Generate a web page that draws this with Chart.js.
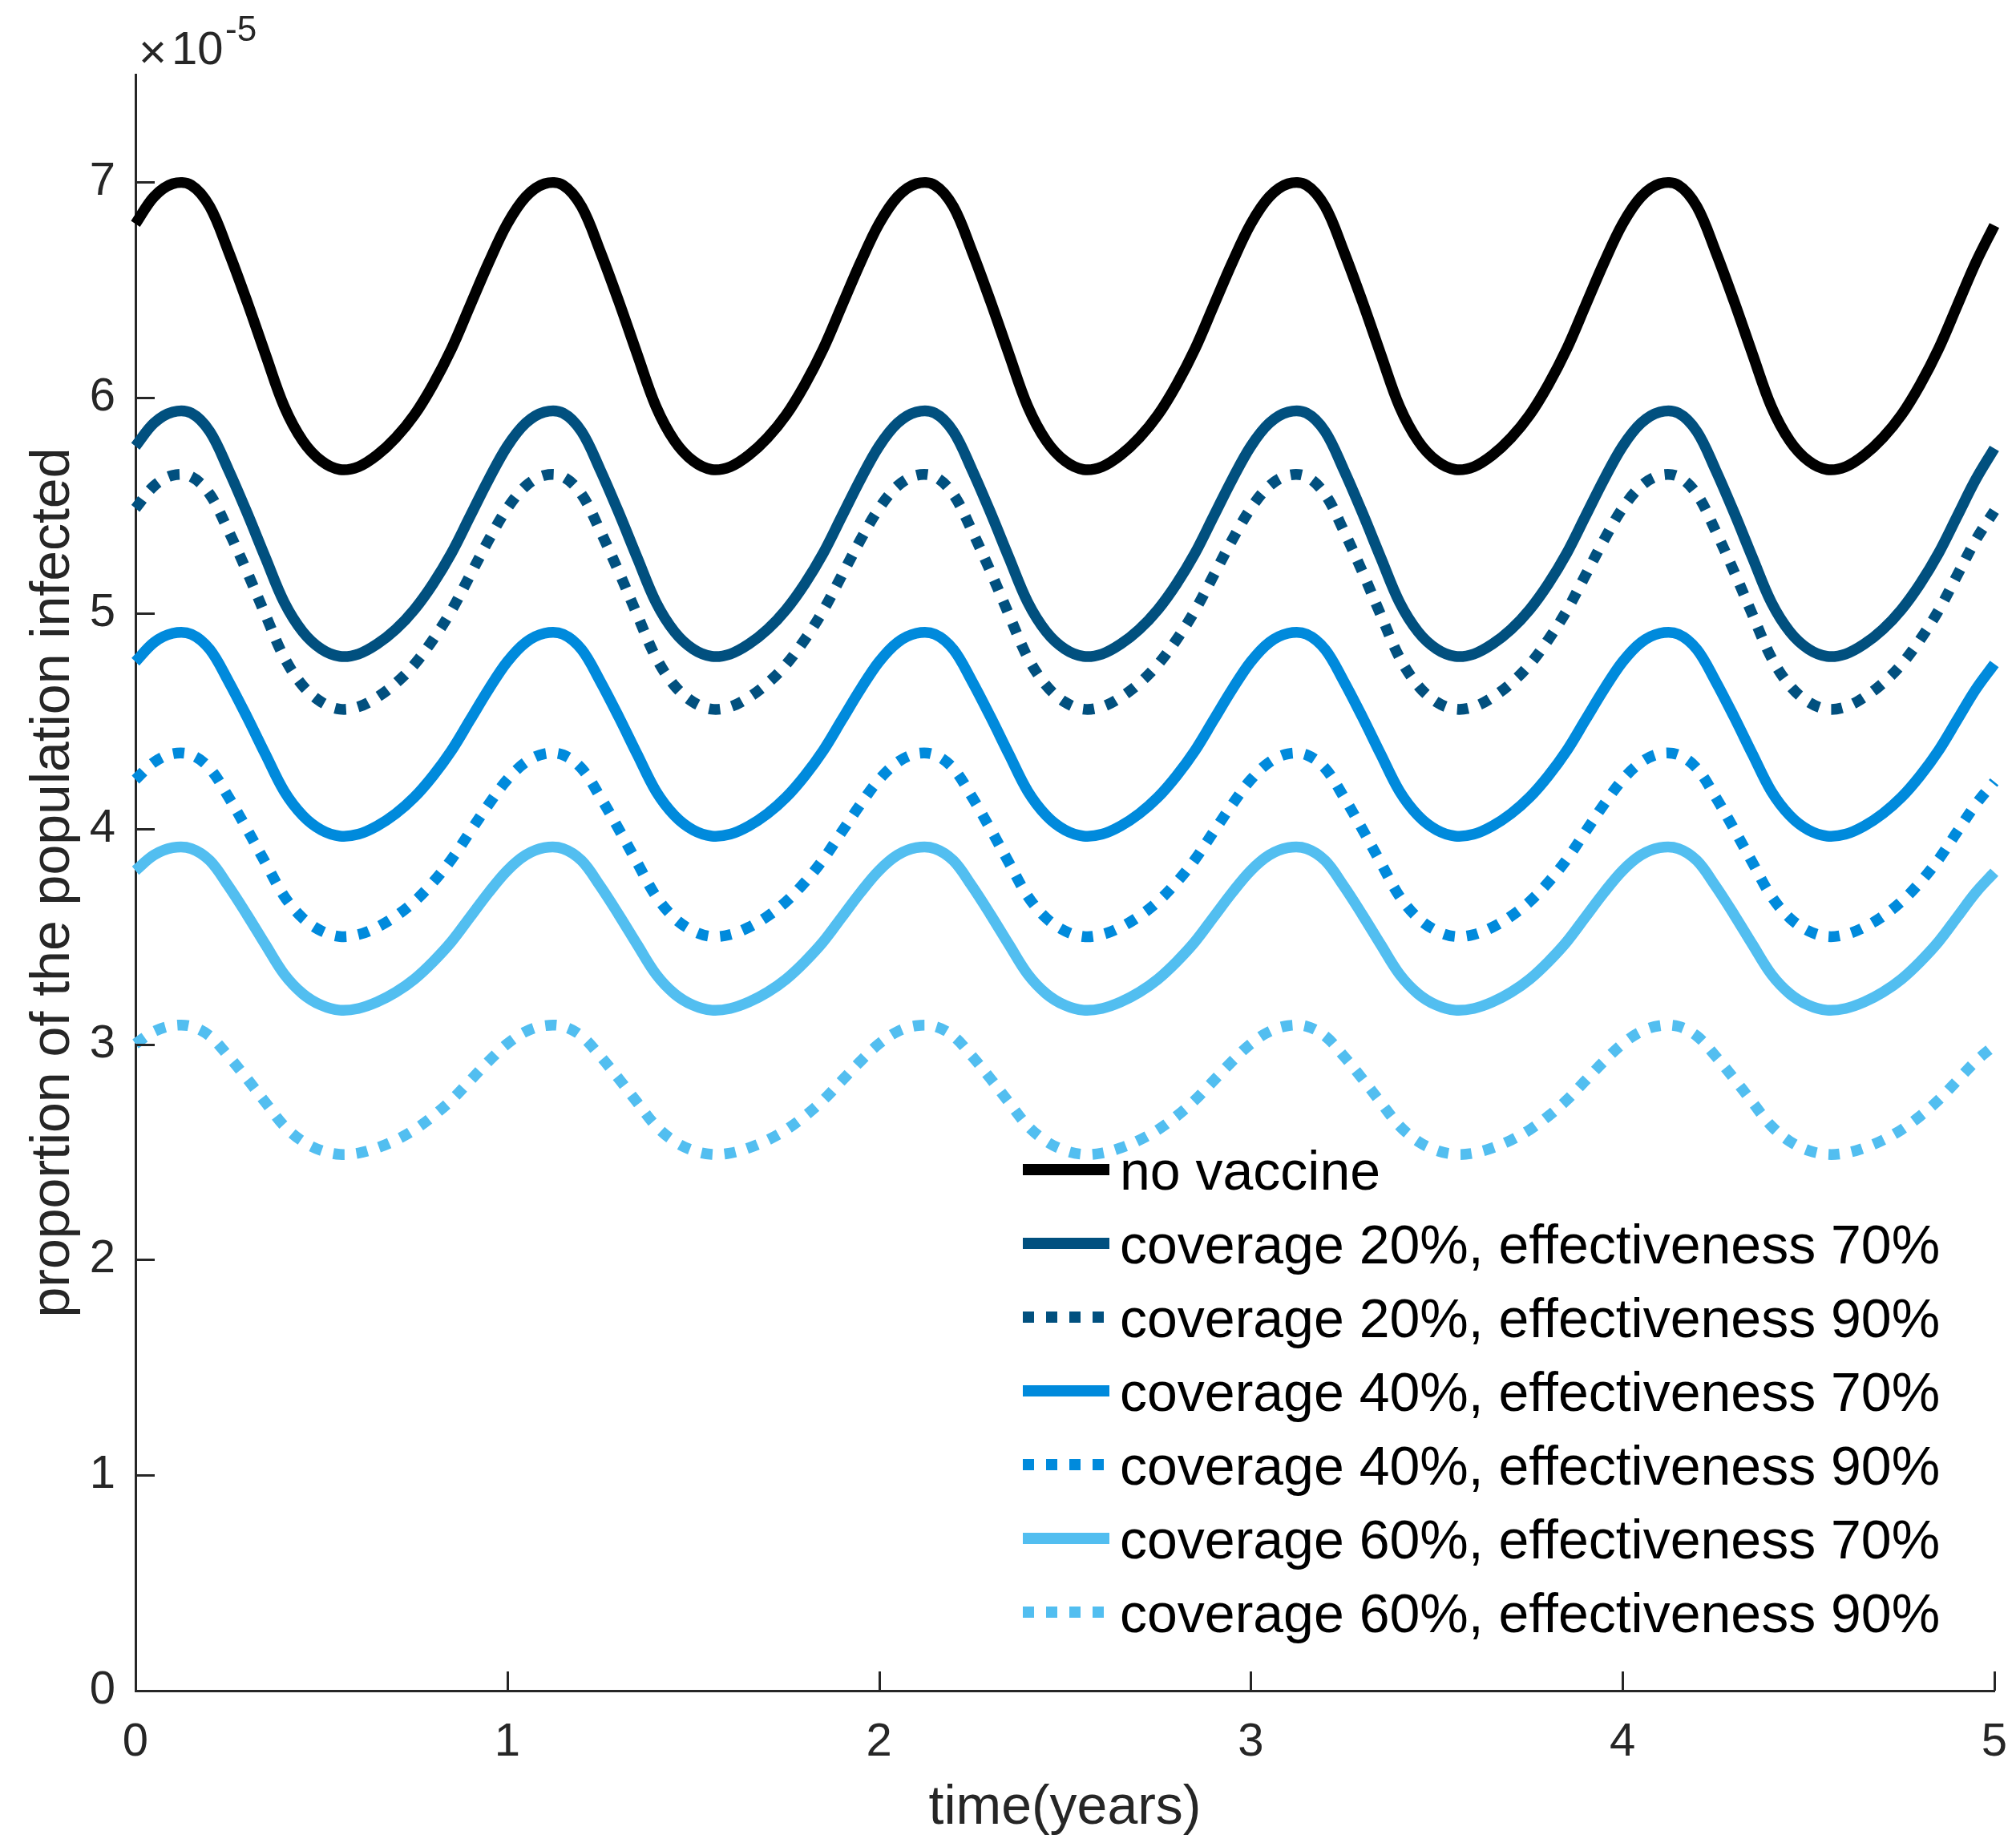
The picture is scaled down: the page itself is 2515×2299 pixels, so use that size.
<!DOCTYPE html>
<html>
<head>
<meta charset="utf-8">
<script src="https://cdn.jsdelivr.net/npm/chart.js@4.4.1/dist/chart.umd.min.js"></script>
<style>
  html, body { margin: 0; padding: 0; background: #ffffff; }
  #c { display: block; }
</style>
</head>
<body>
<canvas id="c" width="2515" height="2299" style="width:2515px;height:2299px"></canvas>
<script>
// ---- data (values in units of 1e-5) ----
const times = [
  0.00,0.05,0.10,0.15,0.20,0.25,0.30,0.35,0.40,0.45,0.50,0.55,0.60,0.65,0.70,0.75,0.80,0.85,0.90,0.95,
  1.00,1.05,1.10,1.15,1.20,1.25,1.30,1.35,1.40,1.45,1.50,1.55,1.60,1.65,1.70,1.75,1.80,1.85,1.90,1.95,
  2.00,2.05,2.10,2.15,2.20,2.25,2.30,2.35,2.40,2.45,2.50,2.55,2.60,2.65,2.70,2.75,2.80,2.85,2.90,2.95,
  3.00,3.05,3.10,3.15,3.20,3.25,3.30,3.35,3.40,3.45,3.50,3.55,3.60,3.65,3.70,3.75,3.80,3.85,3.90,3.95,
  4.00,4.05,4.10,4.15,4.20,4.25,4.30,4.35,4.40,4.45,4.50,4.55,4.60,4.65,4.70,4.75,4.80,4.85,4.90,4.95,
  5.00
];
const noVaccine = [
  6.807,6.933,6.993,6.987,6.887,6.680,6.447,6.200,5.960,5.800,5.707,5.667,5.680,5.734,5.814,5.920,6.060,6.227,6.427,6.627,
  6.807,6.933,6.993,6.987,6.887,6.680,6.447,6.200,5.960,5.800,5.707,5.667,5.680,5.734,5.814,5.920,6.060,6.227,6.427,6.627,
  6.807,6.933,6.993,6.987,6.887,6.680,6.447,6.200,5.960,5.800,5.707,5.667,5.680,5.734,5.814,5.920,6.060,6.227,6.427,6.627,
  6.807,6.933,6.993,6.987,6.887,6.680,6.447,6.200,5.960,5.800,5.707,5.667,5.680,5.734,5.814,5.920,6.060,6.227,6.427,6.627,
  6.807,6.933,6.993,6.987,6.887,6.680,6.447,6.200,5.960,5.800,5.707,5.667,5.680,5.734,5.814,5.920,6.060,6.227,6.427,6.627,
  6.800
];
const cov20eff70 = [
  5.775,5.883,5.934,5.929,5.843,5.666,5.467,5.256,5.051,4.914,4.834,4.800,4.811,4.857,4.925,5.017,5.136,5.279,5.450,5.621,
  5.775,5.883,5.934,5.929,5.843,5.666,5.467,5.256,5.051,4.914,4.834,4.800,4.811,4.857,4.925,5.017,5.136,5.279,5.450,5.621,
  5.775,5.883,5.934,5.929,5.843,5.666,5.467,5.256,5.051,4.914,4.834,4.800,4.811,4.857,4.925,5.017,5.136,5.279,5.450,5.621,
  5.775,5.883,5.934,5.929,5.843,5.666,5.467,5.256,5.051,4.914,4.834,4.800,4.811,4.857,4.925,5.017,5.136,5.279,5.450,5.621,
  5.775,5.883,5.934,5.929,5.843,5.666,5.467,5.256,5.051,4.914,4.834,4.800,4.811,4.857,4.925,5.017,5.136,5.279,5.450,5.621,
  5.765
];
const cov20eff90 = [
  5.487,5.591,5.640,5.634,5.552,5.383,5.193,4.991,4.795,4.664,4.588,4.555,4.566,4.610,4.675,4.762,4.877,5.013,5.176,5.340,
  5.487,5.591,5.640,5.634,5.552,5.383,5.193,4.991,4.795,4.664,4.588,4.555,4.566,4.610,4.675,4.762,4.877,5.013,5.176,5.340,
  5.487,5.591,5.640,5.634,5.552,5.383,5.193,4.991,4.795,4.664,4.588,4.555,4.566,4.610,4.675,4.762,4.877,5.013,5.176,5.340,
  5.487,5.591,5.640,5.634,5.552,5.383,5.193,4.991,4.795,4.664,4.588,4.555,4.566,4.610,4.675,4.762,4.877,5.013,5.176,5.340,
  5.487,5.591,5.640,5.634,5.552,5.383,5.193,4.991,4.795,4.664,4.588,4.555,4.566,4.610,4.675,4.762,4.877,5.013,5.176,5.340,
  5.475
];
const cov40eff70 = [
  4.775,4.865,4.907,4.903,4.832,4.685,4.519,4.344,4.174,4.061,3.994,3.966,3.975,4.013,4.070,4.146,4.245,4.363,4.505,4.647,
  4.775,4.865,4.907,4.903,4.832,4.685,4.519,4.344,4.174,4.061,3.994,3.966,3.975,4.013,4.070,4.146,4.245,4.363,4.505,4.647,
  4.775,4.865,4.907,4.903,4.832,4.685,4.519,4.344,4.174,4.061,3.994,3.966,3.975,4.013,4.070,4.146,4.245,4.363,4.505,4.647,
  4.775,4.865,4.907,4.903,4.832,4.685,4.519,4.344,4.174,4.061,3.994,3.966,3.975,4.013,4.070,4.146,4.245,4.363,4.505,4.647,
  4.775,4.865,4.907,4.903,4.832,4.685,4.519,4.344,4.174,4.061,3.994,3.966,3.975,4.013,4.070,4.146,4.245,4.363,4.505,4.647,
  4.765
];
const cov40eff90 = [
  4.228,4.309,4.348,4.343,4.280,4.148,3.998,3.841,3.687,3.585,3.526,3.500,3.509,3.543,3.594,3.662,3.751,3.858,3.986,4.113,
  4.228,4.309,4.348,4.343,4.280,4.148,3.998,3.841,3.687,3.585,3.526,3.500,3.509,3.543,3.594,3.662,3.751,3.858,3.986,4.113,
  4.228,4.309,4.348,4.343,4.280,4.148,3.998,3.841,3.687,3.585,3.526,3.500,3.509,3.543,3.594,3.662,3.751,3.858,3.986,4.113,
  4.228,4.309,4.348,4.343,4.280,4.148,3.998,3.841,3.687,3.585,3.526,3.500,3.509,3.543,3.594,3.662,3.751,3.858,3.986,4.113,
  4.228,4.309,4.348,4.343,4.280,4.148,3.998,3.841,3.687,3.585,3.526,3.500,3.509,3.543,3.594,3.662,3.751,3.858,3.986,4.113,
  4.218
];
const cov60eff70 = [
  3.806,3.878,3.912,3.908,3.852,3.734,3.601,3.461,3.325,3.234,3.181,3.158,3.166,3.196,3.241,3.302,3.382,3.476,3.590,3.704,
  3.806,3.878,3.912,3.908,3.852,3.734,3.601,3.461,3.325,3.234,3.181,3.158,3.166,3.196,3.241,3.302,3.382,3.476,3.590,3.704,
  3.806,3.878,3.912,3.908,3.852,3.734,3.601,3.461,3.325,3.234,3.181,3.158,3.166,3.196,3.241,3.302,3.382,3.476,3.590,3.704,
  3.806,3.878,3.912,3.908,3.852,3.734,3.601,3.461,3.325,3.234,3.181,3.158,3.166,3.196,3.241,3.302,3.382,3.476,3.590,3.704,
  3.806,3.878,3.912,3.908,3.852,3.734,3.601,3.461,3.325,3.234,3.181,3.158,3.166,3.196,3.241,3.302,3.382,3.476,3.590,3.704,
  3.798
];
const cov60eff90 = [
  3.002,3.059,3.086,3.083,3.038,2.945,2.840,2.729,2.621,2.549,2.507,2.489,2.495,2.519,2.555,2.603,2.666,2.741,2.831,2.921,
  3.002,3.059,3.086,3.083,3.038,2.945,2.840,2.729,2.621,2.549,2.507,2.489,2.495,2.519,2.555,2.603,2.666,2.741,2.831,2.921,
  3.002,3.059,3.086,3.083,3.038,2.945,2.840,2.729,2.621,2.549,2.507,2.489,2.495,2.519,2.555,2.603,2.666,2.741,2.831,2.921,
  3.002,3.059,3.086,3.083,3.038,2.945,2.840,2.729,2.621,2.549,2.507,2.489,2.495,2.519,2.555,2.603,2.666,2.741,2.831,2.921,
  3.002,3.059,3.086,3.083,3.038,2.945,2.840,2.729,2.621,2.549,2.507,2.489,2.495,2.519,2.555,2.603,2.666,2.741,2.831,2.921,
  2.995
];
const seriesLabels = [
  'no vaccine',
  'coverage 20%, effectiveness 70%',
  'coverage 20%, effectiveness 90%',
  'coverage 40%, effectiveness 70%',
  'coverage 40%, effectiveness 90%',
  'coverage 60%, effectiveness 70%',
  'coverage 60%, effectiveness 90%'
];
const xTicks = [0, 1, 2, 3, 4, 5];
const yTicks = [0, 1, 2, 3, 4, 5, 6, 7];

// ---- styles ----
const FONT = "'Liberation Sans', Arial, Helvetica, sans-serif";
const AXIS = '#262626';
const LW = 13.5;
const DOT = [14, 15];
const seriesValues = [noVaccine, cov20eff70, cov20eff90, cov40eff70, cov40eff90, cov60eff70, cov60eff90];
const seriesColors = ['#000000', '#01507F', '#01507F', '#008ADC', '#008ADC', '#52BEF0', '#52BEF0'];
const seriesDashed = [false, false, true, false, true, false, true];

const datasets = seriesValues.map((vals, i) => ({
  label: seriesLabels[i],
  data: vals.map((v, k) => ({ x: times[k], y: v })),
  borderColor: seriesColors[i],
  backgroundColor: seriesColors[i],
  borderWidth: LW,
  borderDash: seriesDashed[i] ? DOT : [],
  borderCapStyle: 'butt',
  borderJoinStyle: 'round',
  pointRadius: 0,
  fill: false,
  tension: 0.35,
  clip: false
}));

const decorPlugin = {
  id: 'decor',
  afterDraw(chart) {
    const ctx = chart.ctx;
    const xs = chart.scales.x, ys = chart.scales.y;
    const area = chart.chartArea;
    ctx.save();
    // inward tick marks
    ctx.strokeStyle = AXIS;
    ctx.lineWidth = 3;
    ctx.setLineDash([]);
    ctx.beginPath();
    yTicks.forEach(v => {
      const py = Math.round(ys.getPixelForValue(v)) + 0.5;
      ctx.moveTo(area.left, py);
      ctx.lineTo(area.left + 24, py);
    });
    xTicks.forEach(v => {
      const px = Math.round(xs.getPixelForValue(v)) + 0.5;
      ctx.moveTo(px, area.bottom);
      ctx.lineTo(px, area.bottom - 24);
    });
    ctx.stroke();

    // exponent label
    ctx.fillStyle = AXIS;
    ctx.textAlign = 'left';
    ctx.textBaseline = 'alphabetic';
    ctx.font = '60px ' + FONT;
    ctx.fillText('\u00D7', 173, 85);
    ctx.font = '58px ' + FONT;
    ctx.fillText('10', 214, 80);
    ctx.font = '44px ' + FONT;
    ctx.fillText('-5', 281, 51);

    // legend
    const lx1 = 1276, lx2 = 1384, tx = 1397, ly0 = 1459, dy = 92;
    chart.data.datasets.forEach((ds, i) => {
      const y = ly0 + i * dy;
      ctx.strokeStyle = ds.borderColor;
      ctx.lineWidth = 14;
      ctx.lineCap = 'butt';
      ctx.setLineDash(ds.borderDash || []);
      ctx.beginPath();
      ctx.moveTo(lx1, y);
      ctx.lineTo(lx2, y);
      ctx.stroke();
      ctx.setLineDash([]);
      ctx.fillStyle = '#000000';
      ctx.font = '68px ' + FONT;
      ctx.textBaseline = 'alphabetic';
      ctx.fillText(ds.label, tx, y + 25);
    });
    ctx.restore();
  }
};

new Chart(document.getElementById('c'), {
  type: 'line',
  data: { datasets },
  options: {
    responsive: false,
    animation: false,
    devicePixelRatio: 1,
    layout: { padding: { top: 93, right: 27, left: 0, bottom: 0 } },
    plugins: { legend: { display: false }, tooltip: { enabled: false } },
    scales: {
      x: {
        type: 'linear',
        min: 0,
        max: 5,
        afterBuildTicks: s => { s.ticks = xTicks.map(v => ({ value: v })); },
        afterFit: s => { s.height = 190; s.paddingLeft = 0; s.paddingRight = 0; },
        grid: { display: true, drawOnChartArea: false, drawTicks: false },
        border: { display: true, color: AXIS, width: 3 },
        ticks: { color: AXIS, font: { family: FONT, size: 58 }, padding: 30, maxRotation: 0 },
        title: { display: true, text: 'time(years)', color: AXIS, font: { family: FONT, size: 68 }, padding: { top: 0, bottom: 2 } }
      },
      y: {
        type: 'linear',
        min: 0,
        max: 7.5,
        afterBuildTicks: s => { s.ticks = yTicks.map(v => ({ value: v })); },
        afterFit: s => { s.width = 169; s.paddingTop = 0; s.paddingBottom = 0; },
        grid: { display: true, drawOnChartArea: false, drawTicks: false },
        border: { display: true, color: AXIS, width: 3 },
        ticks: { color: AXIS, font: { family: FONT, size: 58 }, padding: 25 },
        title: { display: true, text: 'proportion of the population infected', color: AXIS, font: { family: FONT, size: 68 }, padding: { top: 26, bottom: 0 } }
      }
    }
  },
  plugins: [decorPlugin]
});
</script>
</body>
</html>
